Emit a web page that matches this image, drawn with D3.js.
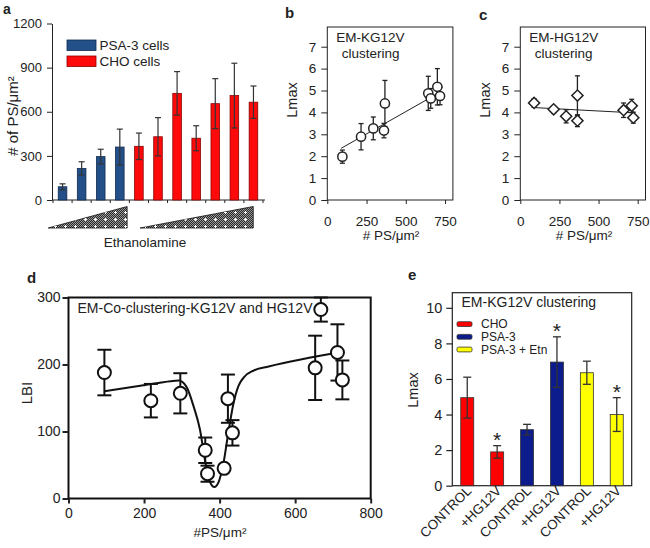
<!DOCTYPE html>
<html><head><meta charset="utf-8">
<script src="https://cdn.jsdelivr.net/npm/d3@7"></script>
<style>
body{margin:0;background:#fff}
svg{display:block}
text{font-family:"Liberation Sans",Arial,Helvetica,sans-serif;fill:#222}
</style>
</head><body>
<svg id="chart" width="650" height="548"></svg>
<script>
// ---------------- DATA ----------------
// Panel a
const aCategories = ["PSA-3 Etn0","PSA-3 Etn1","PSA-3 Etn2","PSA-3 Etn3","CHO Etn0","CHO Etn1","CHO Etn2","CHO Etn3","CHO Etn4","CHO Etn5","CHO Etn6"];
const aCellType = ["PSA-3 cells","PSA-3 cells","PSA-3 cells","PSA-3 cells","CHO cells","CHO cells","CHO cells","CHO cells","CHO cells","CHO cells","CHO cells"];
const aValues = [90, 215, 295, 360, 365, 430, 725, 420, 655, 710, 665];
const aErrors = [20, 45, 50, 122, 90, 130, 148, 85, 170, 220, 110];
const aYTicks = [0, 300, 600, 900, 1200];
const aLegend = ["PSA-3 cells", "CHO cells"];
const aTreatmentLabel = "Ethanolamine";
const aYLabel = "# of PS/\u03bcm\u00b2";

// Panel b
const bX = [96, 215, 293, 367, 361, 643, 659, 701, 718];
const bY = [1.98, 2.89, 3.27, 4.41, 3.17, 4.87, 4.64, 5.17, 4.75];
const bErr = [0.3, 0.6, 0.52, 1.05, 0.33, 0.78, 0.45, 0.83, 0.4];
const bFitX = [88, 720];
const bFitY = [2.36, 4.93];
const bTitle = ["EM-KG12V", "clustering"];

// Panel c
const cX = [88, 213, 293, 365, 365, 660, 712, 722];
const cY = [4.43, 4.14, 3.82, 4.77, 3.62, 4.1, 4.3, 3.76];
const cErr = [0.2, 0.17, 0.3, 0.9, 0.27, 0.33, 0.3, 0.25];
const cFitX = [88, 722];
const cFitY = [4.22, 3.98];
const cTitle = ["EM-HG12V", "clustering"];

const bcYTicks = [0, 1, 2, 3, 4, 5, 6, 7];
const bcXTicks = [0, 250, 500, 750];
const psLabel = "# PS/\u03bcm\u00b2";

// Panel d
const dX = [95, 218, 296, 362, 368, 412, 422, 434, 653, 668, 712, 725];
const dY = [188, 146, 157, 72, 37, 45, 149, 98, 195, 282, 218, 177];
const dErr = [34, 25, 30, 19, 12, 0, 36, 19, 48, 18, 42, 29];
const dCurveX = [95, 200, 270, 292, 312, 332, 348, 362, 375, 386, 397, 410, 423, 436, 450, 466, 490, 530, 726];
const dCurveY = [160, 169, 175, 176, 167, 136, 103, 55, 24, 17, 24, 52, 98, 140, 168, 182, 191, 197, 219];
const dXTicks = [0, 200, 400, 600, 800];
const dYTicks = [0, 100, 200, 300];
const dTitle = "EM-Co-clustering-KG12V and HG12V";

// Panel e
const eCategories = ["CHO CONTROL", "CHO +HG12V", "PSA-3 CONTROL", "PSA-3 +HG12V", "Etn CONTROL", "Etn +HG12V"];
const eLabels = ["CONTROL", "+HG12V", "CONTROL", "+HG12V", "CONTROL", "+HG12V"];
const eGroups = ["CHO", "CHO", "PSA-3", "PSA-3", "PSA-3 + Etn", "PSA-3 + Etn"];
const eValues = [4.95, 1.9, 3.15, 6.95, 6.35, 4.0];
const eErrors = [1.15, 0.35, 0.3, 1.42, 0.65, 0.95];
const eSignificant = [false, true, false, true, false, true];
const eLegend = ["CHO", "PSA-3", "PSA-3 + Etn"];
const eYTicks = [0, 2, 4, 6, 8, 10];
const eTitle = "EM-KG12V clustering";

// ---------------- DRAWING ----------------
const svg = d3.select("#chart");
const INK = "#222";

function styleAxis(g, fs, sw) {
  g.attr("font-size", fs).attr("font-family", '"Liberation Sans",Arial,sans-serif');
  g.selectAll("text").attr("fill", INK);
  g.selectAll("line").attr("stroke", INK).attr("stroke-width", sw);
  g.selectAll("path.domain").attr("stroke", INK).attr("stroke-width", sw);
}
function errorBars(g, pts, capW, sw, color) {
  const eg = g.append("g").attr("stroke", color).attr("stroke-width", sw).attr("fill", "none");
  pts.forEach(p => {
    if (p.lo === p.hi) return;
    eg.append("line").attr("x1", p.x).attr("x2", p.x).attr("y1", p.lo).attr("y2", p.hi);
    eg.append("line").attr("x1", p.x - capW / 2).attr("x2", p.x + capW / 2).attr("y1", p.lo).attr("y2", p.lo);
    eg.append("line").attr("x1", p.x - capW / 2).attr("x2", p.x + capW / 2).attr("y1", p.hi).attr("y2", p.hi);
  });
}
function panelLetter(t, x, y, fs) {
  svg.append("text").attr("x", x).attr("y", y).attr("font-size", fs || 15).attr("font-weight", "bold").attr("fill", "#111").text(t);
}

// defs: pattern for triangles
const defs = svg.append("defs");
const pat = defs.append("pattern").attr("id", "dots").attr("patternUnits", "userSpaceOnUse").attr("width", 2).attr("height", 2);
pat.append("rect").attr("width", 2).attr("height", 2).attr("fill", "#2a2a2a");
pat.append("rect").attr("width", 1).attr("height", 1).attr("fill", "#9a9a9a");
pat.append("rect").attr("x", 1).attr("y", 1).attr("width", 1).attr("height", 1).attr("fill", "#9a9a9a");
const pat2 = defs.append("pattern").attr("id", "plus").attr("patternUnits", "userSpaceOnUse").attr("width", 10).attr("height", 7);
pat2.append("rect").attr("x", 4).attr("y", 2).attr("width", 3).attr("height", 1).attr("fill", "#fff");
pat2.append("rect").attr("x", 5).attr("y", 1).attr("width", 1).attr("height", 3).attr("fill", "#fff");

// ===== Panel a =====
(function () {
  const g = svg.append("g");
  const x = d3.scaleBand(aCategories, [53, 263]).paddingInner(0.55).paddingOuter(0.275);
  const y = d3.scaleLinear([0, 1200], [200, 23.5]);
  const color = d3.scaleOrdinal(aLegend, ["#24508a", "#ff0a0a"]);
  const stroke = d3.scaleOrdinal(aLegend, ["#0f2a4f", "#8a0000"]);
  const ya = g.append("g").attr("transform", "translate(52,0)")
    .call(d3.axisLeft(y).tickValues(aYTicks).tickFormat(d3.format("d")).tickSize(5).tickPadding(5).tickSizeOuter(0));
  styleAxis(ya, 13, 1);
  // x axis line with boundary ticks
  g.append("line").attr("x1", 52).attr("x2", 265).attr("y1", 200).attr("y2", 200).attr("stroke", INK);
  const step = x.step(), gap = step - x.bandwidth();
  const bounds = aCategories.map(c => x(c) - gap / 2).concat([x(aCategories[aCategories.length - 1]) + x.bandwidth() + gap / 2]);
  g.selectAll(".bt").data(bounds).join("line")
    .attr("x1", d => d).attr("x2", d => d).attr("y1", 200).attr("y2", 203).attr("stroke", INK);
  g.selectAll(".bar").data(aValues).join("rect")
    .attr("x", (d, i) => x(aCategories[i])).attr("width", x.bandwidth())
    .attr("y", d => y(d)).attr("height", d => 200 - y(d))
    .attr("fill", (d, i) => color(aCellType[i])).attr("stroke", (d, i) => stroke(aCellType[i])).attr("stroke-width", 0.8);
  errorBars(g, aValues.map((v, i) => ({ x: x(aCategories[i]) + x.bandwidth() / 2, lo: y(v - aErrors[i]), hi: y(v + aErrors[i]) })), 6, 1.2, "#333");
  // legend
  aLegend.forEach((l, i) => {
    g.append("rect").attr("x", 67).attr("y", 40 + i * 16).attr("width", 29).attr("height", 10.5)
      .attr("fill", color(l)).attr("stroke", stroke(l)).attr("stroke-width", 0.8);
    g.append("text").attr("x", 99.5).attr("y", 50 + i * 16).attr("font-size", 13.5).text(l);
  });
  // triangles (treatment gradient)
  const bw = x.bandwidth();
  const tri = [[x(aCategories[0]) - 10, x(aCategories[3]) + bw + 3], [x(aCategories[4]) + 5.5, x(aCategories[10]) + bw - 4.5]];
  tri.forEach(([x0, x1]) => {
    const pts = `${x0},228 ${x1},206.5 ${x1},228`;
    g.append("polygon").attr("points", pts).attr("fill", "url(#dots)").attr("stroke", "#111").attr("stroke-width", 0.8);
    g.append("polygon").attr("points", pts).attr("fill", "url(#plus)");
  });
  g.append("text").attr("x", 145).attr("y", 246.5).attr("text-anchor", "middle").attr("font-size", 13.5).text(aTreatmentLabel);
  g.append("text").attr("transform", "translate(18,116) rotate(-90)").attr("text-anchor", "middle").attr("font-size", 15).text(aYLabel);
  panelLetter("a", 3, 14, 14);
})();

// ===== Panels b, c =====
function scatterPanel(opts) {
  const g = svg.append("g");
  const x = d3.scaleLinear([0, 800], [opts.left, opts.right]);
  const y = d3.scaleLinear([0, 7.9], [200, 27]);
  g.append("rect").attr("x", opts.left).attr("y", 27).attr("width", opts.right - opts.left).attr("height", 173)
    .attr("fill", "none").attr("stroke", INK).attr("stroke-width", 1);
  const ya = g.append("g").attr("transform", `translate(${opts.left},0)`)
    .call(d3.axisLeft(y).tickValues(bcYTicks).tickSize(6).tickPadding(5).tickSizeOuter(0));
  ya.select(".domain").remove();
  styleAxis(ya, 13.5, 1);
  const xa = g.append("g").attr("transform", "translate(0,200)")
    .call(d3.axisBottom(x).tickValues(bcXTicks).tickSize(4).tickPadding(12).tickSizeOuter(0));
  xa.select(".domain").remove();
  styleAxis(xa, 13.5, 1);
  // fit line
  g.append("path").attr("d", d3.line()(opts.fitX.map((v, i) => [x(v), y(opts.fitY[i])])))
    .attr("stroke", INK).attr("stroke-width", 1).attr("fill", "none");
  errorBars(g, opts.xs.map((v, i) => ({ x: x(v), lo: y(opts.ys[i] - opts.err[i]), hi: y(opts.ys[i] + opts.err[i]) })), 5, 1.3, INK);
  if (opts.marker === "circle") {
    g.selectAll(".pt").data(opts.xs).join("circle")
      .attr("cx", d => x(d)).attr("cy", (d, i) => y(opts.ys[i])).attr("r", 4.6)
      .attr("fill", "#fff").attr("stroke", INK).attr("stroke-width", 1.5);
  } else {
    const sym = d3.symbol(d3.symbolSquare, 62);
    g.selectAll(".pt").data(opts.xs).join("path")
      .attr("d", sym).attr("transform", (d, i) => `translate(${x(d)},${y(opts.ys[i])}) rotate(45)`)
      .attr("fill", "#fff").attr("stroke", INK).attr("stroke-width", 1.5);
  }
  g.append("text").attr("x", opts.left + 9).attr("y", 42).attr("font-size", 13.5).text(opts.title[0]);
  g.append("text").attr("x", opts.left + 14.5).attr("y", 57.5).attr("font-size", 13.5).text(opts.title[1]);
  g.append("text").attr("transform", `translate(${opts.left - 30},${100}) rotate(-90)`).attr("text-anchor", "middle").attr("font-size", 14.5).text("Lmax");
  g.append("text").attr("x", (opts.left + opts.right) / 2 + 1).attr("y", 240).attr("text-anchor", "middle").attr("font-size", 13.5).text(psLabel);
}
scatterPanel({ left: 327.3, right: 452.9, xs: bX, ys: bY, err: bErr, fitX: bFitX, fitY: bFitY, title: bTitle, marker: "circle" });
scatterPanel({ left: 520.3, right: 645.5, xs: cX, ys: cY, err: cErr, fitX: cFitX, fitY: cFitY, title: cTitle, marker: "diamond" });
panelLetter("b", 285, 18);
panelLetter("c", 479, 20);

// ===== Panel d =====
(function () {
  const g = svg.append("g");
  const L = 68.5, R = 370.7, T = 297.5, B = 498.5;
  const x = d3.scaleLinear([0, 800], [L, R]);
  const y = d3.scaleLinear([0, 300], [B, T]);
  // curve
  g.append("path").attr("d", d3.line().curve(d3.curveMonotoneX)(dCurveX.map((v, i) => [x(v), y(dCurveY[i])])))
    .attr("stroke", "#111").attr("stroke-width", 2).attr("fill", "none");
  errorBars(g, dX.map((v, i) => ({ x: x(v), lo: y(dY[i] - dErr[i]), hi: y(Math.min(300, dY[i] + dErr[i])) })), 14, 2, "#111");
  g.selectAll(".pt").data(dX).join("circle")
    .attr("cx", d => x(d)).attr("cy", (d, i) => y(dY[i])).attr("r", 6.5)
    .attr("fill", "#fff").attr("stroke", "#111").attr("stroke-width", 2);
  g.append("rect").attr("x", L).attr("y", T).attr("width", R - L).attr("height", B - T)
    .attr("fill", "none").attr("stroke", "#111").attr("stroke-width", 2);
  const ya = g.append("g").attr("transform", `translate(${L},0)`)
    .call(d3.axisLeft(y).tickValues(dYTicks).tickSize(6).tickPadding(2).tickSizeOuter(0));
  ya.select(".domain").remove();
  styleAxis(ya, 14, 2);
  const xa = g.append("g").attr("transform", `translate(0,${B})`)
    .call(d3.axisBottom(x).tickValues(dXTicks).tickSize(5).tickPadding(5).tickSizeOuter(0));
  xa.select(".domain").remove();
  styleAxis(xa, 14, 2);
  g.append("text").attr("x", 77.5).attr("y", 313).attr("font-size", 14).text(dTitle);
  g.append("text").attr("transform", "translate(32,393) rotate(-90)").attr("text-anchor", "middle").attr("font-size", 15).text("LBI");
  g.append("text").attr("x", 220).attr("y", 537).attr("text-anchor", "middle").attr("font-size", 13.5).text("#PS/\u03bcm\u00b2");
  panelLetter("d", 27, 283);
})();

// ===== Panel e =====
(function () {
  const g = svg.append("g");
  const L = 452.3, R = 631.7, T = 292.7, B = 485.7;
  const x = d3.scaleBand(eCategories, [L, R]).paddingInner(0.565).paddingOuter(0.2825);
  const y = d3.scaleLinear([0, 10.85], [B, T]);
  const color = d3.scaleOrdinal(eLegend, ["#ff0000", "#0c1c8c", "#ffff00"]);
  g.append("rect").attr("x", L).attr("y", T).attr("width", R - L).attr("height", B - T)
    .attr("fill", "none").attr("stroke", INK).attr("stroke-width", 1.2);
  const ya = g.append("g").attr("transform", `translate(${L},0)`)
    .call(d3.axisLeft(y).tickValues(eYTicks).tickSize(6).tickPadding(4).tickSizeOuter(0));
  ya.select(".domain").remove();
  styleAxis(ya, 14.5, 1.2);
  g.selectAll(".bar").data(eValues).join("rect")
    .attr("x", (d, i) => x(eCategories[i])).attr("width", x.bandwidth())
    .attr("y", d => y(d)).attr("height", d => B - y(d))
    .attr("fill", (d, i) => color(eGroups[i])).attr("stroke", "#333").attr("stroke-width", 0.8);
  errorBars(g, eValues.map((v, i) => ({ x: x(eCategories[i]) + x.bandwidth() / 2, lo: y(v - eErrors[i]), hi: y(v + eErrors[i]) })), 8, 1.3, "#333");
  eValues.forEach((v, i) => {
    if (!eSignificant[i]) return;
    g.append("text").attr("x", x(eCategories[i]) + x.bandwidth() / 2).attr("y", y(v + eErrors[i]) + 1)
      .attr("text-anchor", "middle").attr("font-size", 21).text("*");
  });
  eLabels.forEach((l, i) => {
    const cx = x(eCategories[i]) + x.bandwidth() / 2;
    g.append("text").attr("transform", `translate(${cx + 5},${B + 6}) rotate(-45)`)
      .attr("text-anchor", "end").attr("font-size", 13.5).text(l);
  });
  g.append("text").attr("x", 461.5).attr("y", 306.7).attr("font-size", 14).text(eTitle);
  eLegend.forEach((l, i) => {
    g.append("rect").attr("x", 457).attr("y", 321.7 + i * 12.7).attr("width", 15).attr("height", 4.8).attr("rx", 1.5)
      .attr("fill", color(l)).attr("stroke", "#333").attr("stroke-width", 0.8);
    g.append("text").attr("x", 481).attr("y", 328 + i * 12.9).attr("font-size", 12).text(l);
  });
  g.append("text").attr("transform", "translate(418,390) rotate(-90)").attr("text-anchor", "middle").attr("font-size", 14.5).text("Lmax");
  panelLetter("e", 408, 280);
})();
</script>
</body></html>
